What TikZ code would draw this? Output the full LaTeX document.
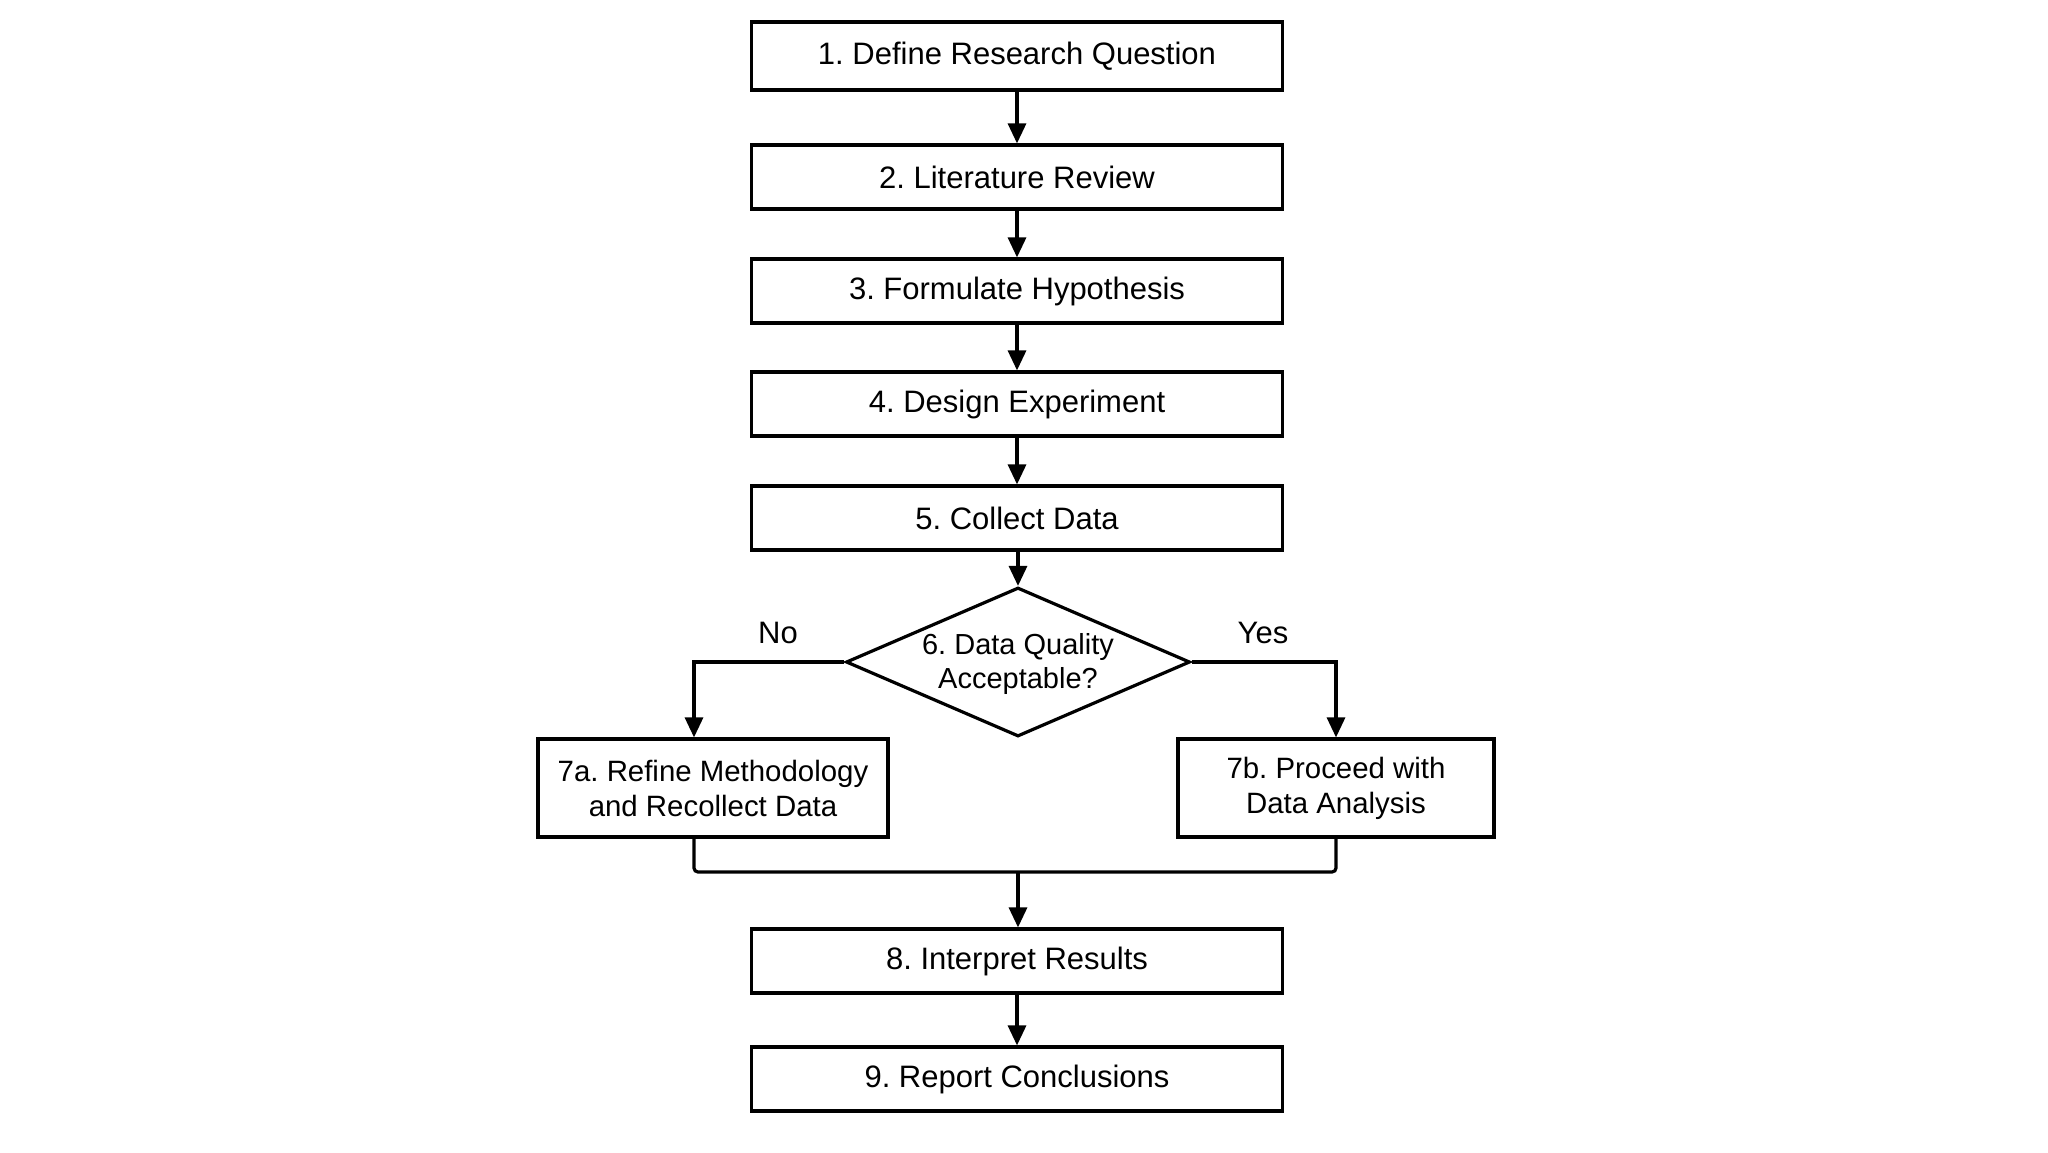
\documentclass[tikz,border=0pt]{standalone}
\usepackage{fontspec}
\setmainfont{Liberation Sans}
\usetikzlibrary{shapes.geometric,arrows.meta,calc}
\begin{document}
\frenchspacing
\begin{tikzpicture}[x=0.5pt,y=-0.5pt,
  stepbox/.style={draw=black,line width=1.6pt,fill=white,minimum width=265.5pt,minimum height=32pt,inner sep=0pt,font=\fontsize{15.5}{17.5}\selectfont,align=center},
  sidebox/.style={draw=black,line width=1.6pt,fill=white,minimum height=49pt,inner sep=0pt,font=\fontsize{14.7}{17.5}\selectfont,align=center},
  decision/.style={diamond,aspect=2.3,draw=black,line width=1.6pt,fill=white,minimum width=172pt,minimum height=74.5pt,inner sep=0pt,font=\fontsize{14.5}{17}\selectfont,align=center},
  lbl/.style={font=\fontsize{15.5}{17.5}\selectfont},
  conn/.style={line width=1.6pt,draw=black,-{Triangle[length=10pt,width=9pt]}},
  plainline/.style={line width=1.6pt,draw=black}
]
\useasboundingbox (0,0) rectangle (2048,1152);
\fill[white] (0,0) rectangle (2048,1152);

\node[stepbox,minimum height=34pt] (b1) at (1017,56) {1. Define Research Question};
\node[stepbox] (b2) at (1017,177) {2. Literature Review};
\node[stepbox] (b3) at (1017,291) {3. Formulate Hypothesis};
\node[stepbox] (b4) at (1017,404) {4. Design Experiment};
\node[stepbox] (b5) at (1017,518) {5. Collect Data};
\node[decision] (d6) at (1018,662) {\rule{0pt}{12pt}6. Data Quality\\Acceptable?};
\node[sidebox,minimum width=175pt] (b7a) at (713,788) {7a. Refine Methodology\\and Recollect Data};
\node[sidebox,minimum width=158pt] (b7b) at (1336,788) {7b. Proceed with\\Data Analysis};
\node[stepbox] (b8) at (1017,961) {8. Interpret Results};
\node[stepbox] (b9) at (1017,1079) {9. Report Conclusions};

\node[lbl] (no) at (778,633) {No};
\node[lbl] (yes) at (1263,633) {Yes};

\draw[conn] (b1) -- (b2);
\draw[conn] (b2) -- (b3);
\draw[conn] (b3) -- (b4);
\draw[conn] (b4) -- (b5);
\draw[conn] (b5.south -| d6.north) -- (d6.north);

\coordinate (lx) at (694,660);
\coordinate (rx) at (1336,660);
\draw[conn] (d6.west) -- (d6.west -| lx) -- (lx |- b7a.north);
\draw[conn] (d6.east) -- (d6.east -| rx) -- (rx |- b7b.north);

\coordinate (ml) at (694,872);
\coordinate (mr) at (1336,872);
\coordinate (mc) at (1018,872);
\draw[plainline,rounded corners=2pt] (ml |- b7a.south) -- (ml) -- (mr) -- (mr |- b7b.south);
\draw[conn] (mc) -- (mc |- b8.north);
\draw[conn] (b8) -- (b9);
\end{tikzpicture}
\end{document}
